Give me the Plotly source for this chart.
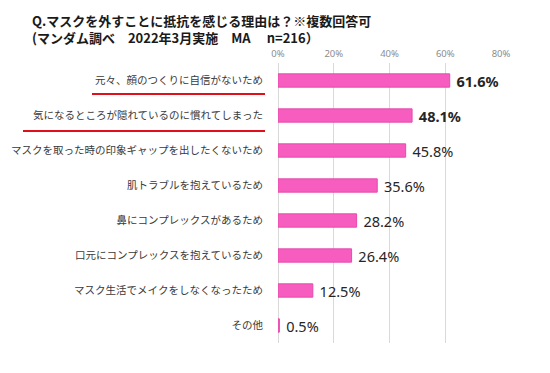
import plotly.graph_objects as go

categories = [
    "元々、顔のつくりに自信がないため",
    "気になるところが隠れているのに慣れてしまった",
    "マスクを取った時の印象ギャップを出したくないため",
    "肌トラブルを抱えているため",
    "鼻にコンプレックスがあるため",
    "口元にコンプレックスを抱えているため",
    "マスク生活でメイクをしなくなったため",
    "その他",
]
values = [61.6, 48.1, 45.8, 35.6, 28.2, 26.4, 12.5, 0.5]
highlighted = [True, True, False, False, False, False, False, False]
tick_vals = [0, 20, 40, 60, 80]
tick_text = ["0%", "20%", "40%", "60%", "80%"]
title_line1 = "Q.マスクを外すことに抵抗を感じる理由は？※複数回答可"
title_line2 = "(マンダム調べ　2022年3月実施　MA　 n=216）"

labels = [
    ("&nbsp;<b>" + f"{v}%" + "</b>" if h else f"&nbsp;{v}%")
    for v, h in zip(values, highlighted)
]

CJK = "Noto Sans CJK JP"
# page has an 8px body margin; plot area in page px: x 278..501, y 63..343
PL, PW, PT, PH = 278, 223, 63, 280


def px_x(px):
    return (px - PL) / PW


def px_y(py):
    return 1 - (py - PT) / PH


fig = go.Figure(
    go.Bar(
        x=values,
        y=categories,
        orientation="h",
        marker=dict(color="#f75cbf", line=dict(color="#e64bac", width=1)),
        text=labels,
        textposition="outside",
        constraintext="none",
        textfont=dict(family="Noto Sans, " + CJK, size=14.5, color="#262626"),
        cliponaxis=False,
        width=0.38,
    )
)

fig.update_layout(
    width=550,
    height=373,
    margin=dict(l=PL - 8, r=550 - (PL - 8) - PW, t=PT - 8, b=373 - (PT - 8) - PH),
    paper_bgcolor="white",
    plot_bgcolor="white",
    showlegend=False,
    font=dict(family=CJK),
    xaxis=dict(
        range=[0, 80],
        side="top",
        automargin=False,
        tickvals=tick_vals,
        ticktext=tick_text,
        tickfont=dict(family="Noto Sans", size=9.5, color="#8c8c8c"),
        showgrid=True,
        gridcolor="#d9d9d9",
        gridwidth=1,
        zeroline=True,
        zerolinecolor="#d9d9d9",
        zerolinewidth=1,
        ticks="outside",
        ticklen=1,
        tickcolor="rgba(0,0,0,0)",
        fixedrange=True,
    ),
    yaxis=dict(
        autorange="reversed",
        automargin=False,
        tickfont=dict(family=CJK, size=10.5, color="#3a3a3a"),
        ticks="outside",
        ticklen=12,
        tickcolor="rgba(0,0,0,0)",
        showgrid=False,
        fixedrange=True,
    ),
    annotations=[
        dict(
            text="<b>" + title_line1 + "<br>" + title_line2 + "</b>",
            xref="paper", yref="paper",
            x=px_x(30), y=px_y(28.5),
            xanchor="left", yanchor="middle", align="left",
            showarrow=False,
            font=dict(family=CJK, size=13, color="#1a1a1a"),
        ),
    ],
    shapes=[
        dict(type="line", xref="paper", yref="paper",
             x0=px_x(92), x1=px_x(265), y0=px_y(94), y1=px_y(94),
             line=dict(color="#e0101a", width=2)),
        dict(type="line", xref="paper", yref="paper",
             x0=px_x(23), x1=px_x(265), y0=px_y(131), y1=px_y(131),
             line=dict(color="#e0101a", width=2)),
    ],
)

fig.write_html("out.html")
